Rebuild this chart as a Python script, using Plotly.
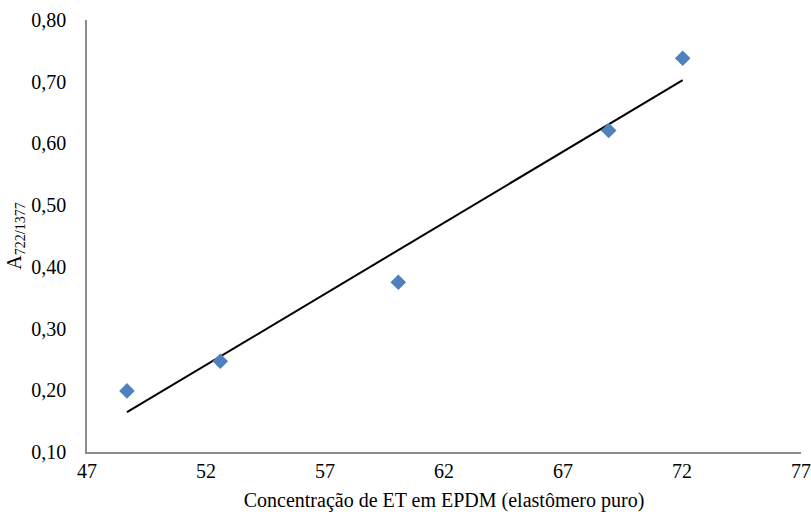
import numpy as np
import plotly.graph_objects as go

# Data
conc_et = [48.68, 52.6, 60.08, 68.92, 72.03]
a_ratio = [0.199, 0.247, 0.375, 0.621, 0.738]
x_ticks = [47, 52, 57, 62, 67, 72, 77]
y_ticks = [0.10, 0.20, 0.30, 0.40, 0.50, 0.60, 0.70, 0.80]
y_tick_labels = ["0,10", "0,20", "0,30", "0,40", "0,50", "0,60", "0,70", "0,80"]

# Linear trendline (least squares) across data range
slope, intercept = np.polyfit(conc_et, a_ratio, 1)
trend_x = [min(conc_et), max(conc_et)]
trend_y = [slope * v + intercept for v in trend_x]

FONT = "Liberation Serif, Times New Roman, serif"
FS = 20

fig = go.Figure()
fig.add_trace(go.Scatter(
    x=trend_x, y=trend_y, mode="lines",
    line=dict(color="black", width=2), showlegend=False, hoverinfo="skip"))
fig.add_trace(go.Scatter(
    x=conc_et, y=a_ratio, mode="markers",
    marker=dict(symbol="diamond", size=12, color="#4F81BD", line=dict(width=0)),
    showlegend=False))

axis_common = dict(showgrid=False, zeroline=False, showline=True,
                   linecolor="#8C8C8C", linewidth=1.5, ticks="",
                   ticklabeloverflow="allow",
                   tickfont=dict(family=FONT, size=FS, color="black"))

fig.update_layout(
    width=811, height=514,
    margin=dict(l=87, r=10, t=20, b=62),
    paper_bgcolor="white", plot_bgcolor="white",
    font=dict(family=FONT, size=FS, color="black"),
    xaxis=dict(range=[47, 77], tickvals=x_ticks, ticktext=[str(v) for v in x_ticks],
               title=dict(text="Concentração de ET em EPDM (elastômero puro)",
                          font=dict(family=FONT, size=FS), standoff=12),
               ticklabelstandoff=0, automargin=False, **axis_common),
    yaxis=dict(range=[0.10, 0.80], tickvals=y_ticks, ticktext=y_tick_labels,
               title=dict(text="A<sub>722/1377</sub>", font=dict(family=FONT, size=FS),
                          standoff=4),
               ticklabelstandoff=15, automargin=False, **axis_common),
)

fig.write_html("out.html")
